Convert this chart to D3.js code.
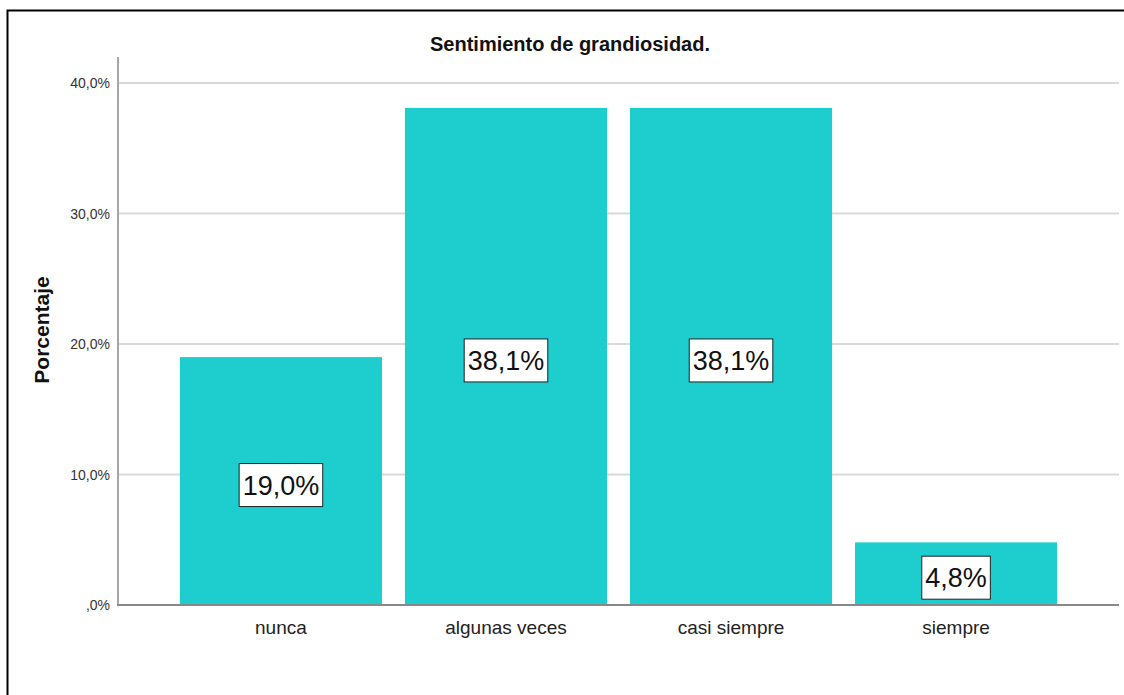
<!DOCTYPE html>
<html lang="es">
<head>
<meta charset="utf-8">
<title>Sentimiento de grandiosidad.</title>
<script src="https://d3js.org/d3.v7.min.js"></script>
<style>
  body { margin: 0; background: #fff; font-family: Arial, "Liberation Sans", sans-serif; }
</style>
</head>
<body>
<script>
// values
var categories = ["nunca", "algunas veces", "casi siempre", "siempre"];
var percents = [19.0, 38.1, 38.1, 4.8];
var yTicks = [0, 10, 20, 30, 40];
var title = "Sentimiento de grandiosidad.";
var yLabel = "Porcentaje";

var W = 1124, H = 695;
var plotLeft = 118, plotRight = 1119, plotTop = 57, plotBottom = 605;

var svg = d3.select("body").append("svg")
    .attr("width", W)
    .attr("height", H);

// outer frame (runs off the right/bottom edge like the screenshot)
svg.append("rect")
    .attr("x", 7.5).attr("y", 10.5)
    .attr("width", 1300).attr("height", 900)
    .attr("fill", "none")
    .attr("stroke", "#000")
    .attr("stroke-width", 2);

var x = d3.scaleBand()
    .domain(categories)
    .range([plotLeft, plotRight])
    .paddingInner(0.102)
    .paddingOuter(0.275);

var y = d3.scaleLinear()
    .domain([0, 42])
    .range([plotBottom, plotTop]);

var fmt = function(v) { return d3.format(".1f")(v).replace(".", ","); };

// gridlines
svg.append("g")
  .selectAll("line")
  .data(yTicks.slice(1))
  .enter().append("line")
    .attr("x1", plotLeft).attr("x2", plotRight)
    .attr("y1", function(d) { return y(d); })
    .attr("y2", function(d) { return y(d); })
    .attr("stroke", "#d9d9d9")
    .attr("stroke-width", 2);

// bars
svg.append("g")
  .selectAll("rect")
  .data(percents)
  .enter().append("rect")
    .attr("x", function(d, i) { return x(categories[i]); })
    .attr("y", function(d) { return y(d); })
    .attr("width", x.bandwidth())
    .attr("height", function(d) { return y(0) - y(d); })
    .attr("fill", "#1ecdcd");

// y axis
var yAxis = svg.append("g")
    .attr("transform", "translate(" + plotLeft + ",0)")
    .call(d3.axisLeft(y).tickValues(yTicks).tickSize(0).tickPadding(8)
          .tickFormat(function(d) { return (d === 0 ? ",0" : fmt(d)) + "%"; }));
yAxis.select(".domain").remove();
yAxis.selectAll("text")
    .attr("font-family", "Arial, 'Liberation Sans', sans-serif")
    .attr("font-size", 14)
    .attr("fill", "#333");
svg.append("line")
    .attr("x1", plotLeft).attr("x2", plotLeft)
    .attr("y1", plotTop).attr("y2", plotBottom)
    .attr("stroke", "#a6a6a6")
    .attr("stroke-width", 2);

// x axis
var xAxis = svg.append("g")
    .attr("transform", "translate(0," + plotBottom + ")")
    .call(d3.axisBottom(x).tickSize(0).tickPadding(16));
xAxis.select(".domain").remove();
xAxis.selectAll("text")
    .attr("font-family", "Arial, 'Liberation Sans', sans-serif")
    .attr("font-size", 19)
    .attr("fill", "#222");
svg.append("line")
    .attr("x1", plotLeft - 1).attr("x2", plotRight)
    .attr("y1", plotBottom).attr("y2", plotBottom)
    .attr("stroke", "#888")
    .attr("stroke-width", 2);

// value labels in boxes
var labels = svg.append("g")
  .selectAll("g")
  .data(percents)
  .enter().append("g")
    .attr("transform", function(d, i) {
      return "translate(" + (x(categories[i]) + x.bandwidth() / 2) + "," + ((y(d) + y(0)) / 2 + 4) + ")";
    });

labels.append("rect").attr("class", "box");
labels.append("text")
    .attr("text-anchor", "middle")
    .attr("dy", "0.36em")
    .attr("font-family", "Arial, 'Liberation Sans', sans-serif")
    .attr("font-size", 27)
    .attr("fill", "#111")
    .text(function(d) { return fmt(d) + "%"; });

labels.each(function() {
  var g = d3.select(this);
  var bb = g.select("text").node().getBBox();
  var w = bb.width + 7;
  g.select("rect")
      .attr("x", -w / 2).attr("y", -21.5)
      .attr("width", w).attr("height", 43)
      .attr("fill", "#fff")
      .attr("stroke", "#222")
      .attr("stroke-width", 1);
});

// title
svg.append("text")
    .attr("x", 570).attr("y", 51)
    .attr("text-anchor", "middle")
    .attr("font-family", "Arial, 'Liberation Sans', sans-serif")
    .attr("font-weight", "bold")
    .attr("font-size", 20)
    .attr("fill", "#111")
    .text(title);

// y axis title
svg.append("text")
    .attr("transform", "translate(49,330) rotate(-90)")
    .attr("text-anchor", "middle")
    .attr("font-family", "Arial, 'Liberation Sans', sans-serif")
    .attr("font-weight", "bold")
    .attr("font-size", 21)
    .attr("fill", "#111")
    .text(yLabel);
</script>
</body>
</html>
